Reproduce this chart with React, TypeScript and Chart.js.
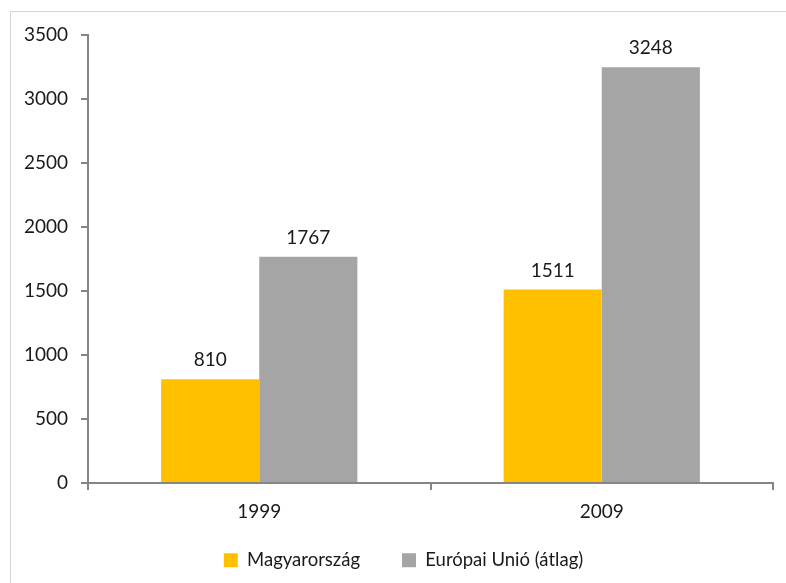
import React, { useEffect, useRef } from "react";
import { Chart, registerables } from "chart.js";

Chart.register(...registerables);

const categories = ["1999", "2009"];
const seriesNames = ["Magyarország", "Európai Unió (átlag)"];
const hungary = [810, 1511];
const euAverage = [1767, 3248];
const yTicks = [0, 500, 1000, 1500, 2000, 2500, 3000, 3500];

const FONT = "Lato, 'Open Sans', sans-serif";
const AXIS = "#868686";
const TEXT = "#1a1a1a";

const valueLabels = {
  id: "valueLabels",
  afterDatasetsDraw(chart: any) {
    const ctx = chart.ctx;
    ctx.save();
    ctx.font = `19px ${FONT}`;
    ctx.fillStyle = TEXT;
    ctx.textAlign = "center";
    ctx.textBaseline = "alphabetic";
    chart.data.datasets.forEach((ds: any, i: number) => {
      const meta = chart.getDatasetMeta(i);
      meta.data.forEach((bar: any, j: number) => {
        ctx.fillText(String(ds.data[j]), bar.x, bar.y - 13);
      });
    });
    ctx.restore();
  },
};

// nudge the legend so it sits where the original's does
const legendShift = {
  id: "legendShift",
  afterLayout(chart: any) {
    const lg = chart.legend;
    if (lg) {
      lg.left += 17;
      lg.right += 17;
      lg.top -= 11;
      lg.bottom -= 11;
    }
  },
};

export default function App() {
  const ref = useRef<HTMLCanvasElement>(null);
  useEffect(() => {
    document.body.style.margin = "0";
    const chart = new Chart(ref.current!, {
      type: "bar",
      data: {
        labels: categories,
        datasets: [
          { label: seriesNames[0], data: hungary, backgroundColor: "#FFC000", borderWidth: 0 },
          { label: seriesNames[1], data: euAverage, backgroundColor: "#A5A5A5", borderWidth: 0 },
        ],
      },
      options: {
        animation: false,
        responsive: false,
        maintainAspectRatio: false,
        layout: { padding: { top: 35, right: 13, left: 0, bottom: 1 } },
        datasets: { bar: { barPercentage: 1, categoryPercentage: 0.573 } },
        scales: {
          x: {
            grid: {
              display: true,
              drawOnChartArea: false,
              drawTicks: true,
              tickLength: 7,
              color: AXIS,
              lineWidth: 2,
              offset: true,
            },
            border: { display: true, color: AXIS, width: 2 },
            ticks: { font: { size: 19, family: FONT }, color: TEXT, padding: 10 },
            afterFit: (s: any) => { s.height = 37; },
          },
          y: {
            min: 0,
            max: 3500,
            afterBuildTicks: (s: any) => { s.ticks = yTicks.map((v) => ({ value: v })); },
            grid: {
              display: true,
              drawOnChartArea: false,
              drawTicks: true,
              tickLength: 7,
              color: AXIS,
              lineWidth: 2,
            },
            border: { display: true, color: AXIS, width: 2 },
            ticks: {
              font: { size: 19, family: FONT },
              color: TEXT,
              padding: 13,
              callback: (v: any) => String(v),
            },
            afterFit: (s: any) => { s.width = 88; },
          },
        },
        plugins: {
          legend: {
            position: "bottom",
            maxHeight: 62,
            labels: {
              boxWidth: 14,
              boxHeight: 14,
              padding: 42,
              font: { size: 18.5, family: FONT },
              color: TEXT,
            },
          },
          tooltip: { enabled: false },
        },
      },
      plugins: [valueLabels, legendShift],
    });
    return () => chart.destroy();
  }, []);
  return (
    <div style={{ position: "relative", width: 786, height: 583, background: "#fff", overflow: "hidden" }}>
      <canvas ref={ref} width={786} height={583} style={{ position: "absolute", left: 0, top: 0 }} />
      <div
        style={{
          position: "absolute",
          left: 10,
          top: 11,
          width: 800,
          height: 600,
          borderTop: "1px solid #d4d4d4",
          borderLeft: "1px solid #d4d4d4",
          pointerEvents: "none",
        }}
      />
    </div>
  );
}
